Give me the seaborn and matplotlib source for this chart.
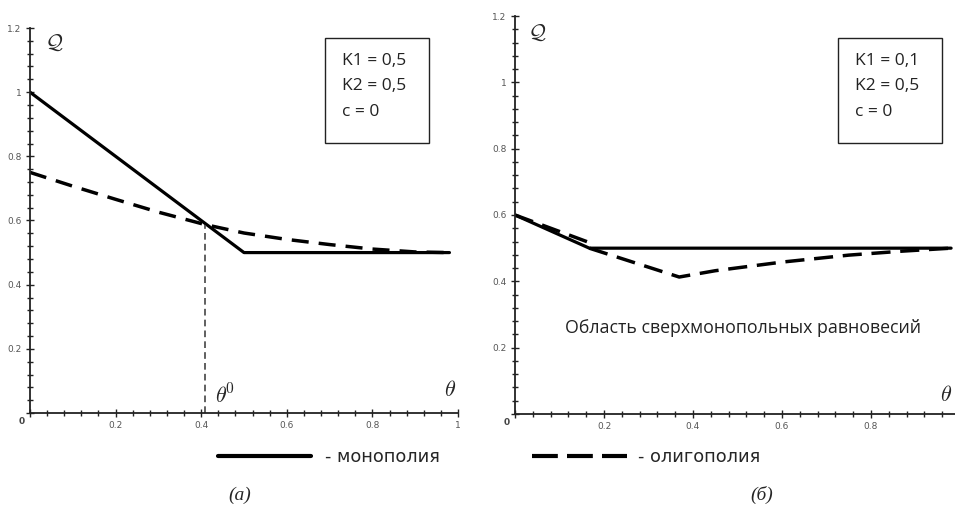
import matplotlib
matplotlib.use("Agg")
import matplotlib.pyplot as plt
import seaborn as sns
import numpy as np
import pandas as pd
from matplotlib.lines import Line2D
from matplotlib.patches import Rectangle
from matplotlib.ticker import FixedLocator, FixedFormatter, MultipleLocator

# ---------------- data ----------------
# panel (a): K1 = 0.5, K2 = 0.5, c = 0
theta_mono_a = [0.0, 0.5, 0.98]
q_mono_a = [1.0, 0.5, 0.5]
theta_olig_a = [0.0, 0.1, 0.2, 0.3, 0.41, 0.5, 0.6, 0.7, 0.8, 0.9, 0.98]
q_olig_a = [0.75, 0.707, 0.666, 0.626, 0.587, 0.561, 0.541, 0.525, 0.511, 0.502, 0.5]
theta0 = 0.41
q_theta0 = 0.587

# panel (б): K1 = 0.1, K2 = 0.5, c = 0
theta_mono_b = [0.0, 0.167, 0.98]
q_mono_b = [0.6, 0.5, 0.5]
theta_olig_b1 = [0.0, 0.165]
q_olig_b1 = [0.6, 0.518]
theta_olig_b2 = [0.167, 0.369, 0.45, 0.6, 0.75, 0.87, 0.98]
q_olig_b2 = [0.5, 0.413, 0.432, 0.458, 0.479, 0.491, 0.5]

x_major = [0.0, 0.2, 0.4, 0.6, 0.8, 1.0]
x_labels_a = ["", "0.2", "0.4", "0.6", "0.8", "1"]
x_labels_b = ["", "0.2", "0.4", "0.6", "0.8", ""]
y_major = [0.0, 0.2, 0.4, 0.6, 0.8, 1.0, 1.2]
y_labels = ["", "0.2", "0.4", "0.6", "0.8", "1", "1.2"]

params_a = "K1 = 0,5\nK2 = 0,5\nc = 0"
params_b = "K1 = 0,1\nK2 = 0,5\nc = 0"
region_text = "Область сверхмонопольных равновесий"
legend_mono = "- монополия"
legend_olig = "- олигополия"

# ---------------- figure ----------------
sns.set_theme(style="white")
plt.rcParams["font.family"] = ["DejaVu Sans"]
plt.rcParams["mathtext.fontset"] = "cm"

W, H = 955, 507
fig = plt.figure(figsize=(W / 100, H / 100), dpi=100)
fig.patch.set_facecolor("white")


def fx(px):
    return px / W


def fy(py):
    return 1 - py / H


axA = fig.add_axes([fx(30), fy(413), 428 / W, 385 / H])
axB = fig.add_axes([fx(515), fy(414), 445 / W, 398 / H])

SOLID_LW = 2.3
DASH_LW = 2.5

# panel a
sns.lineplot(x=theta_mono_a, y=q_mono_a, ax=axA, color="black", lw=SOLID_LW,
             estimator=None, sort=False)
sns.lineplot(x=theta_olig_a, y=q_olig_a, ax=axA, color="black", lw=DASH_LW,
             estimator=None, sort=False, linestyle=(0, (4.9, 2.9)))
sns.lineplot(x=[theta0, theta0], y=[0, q_theta0], ax=axA, color="#444444", lw=1.2,
             estimator=None, sort=False, linestyle=(0, (4, 2.5)))

# panel b
sns.lineplot(x=theta_mono_b, y=q_mono_b, ax=axB, color="black", lw=SOLID_LW,
             estimator=None, sort=False)
sns.lineplot(x=theta_olig_b1, y=q_olig_b1, ax=axB, color="black", lw=DASH_LW,
             estimator=None, sort=False, linestyle=(0, (5.5, 2.8)))
sns.lineplot(x=theta_olig_b2, y=q_olig_b2, ax=axB, color="black", lw=DASH_LW,
             estimator=None, sort=False, linestyle=(0, (5.5, 2.8)))

for ax, xl in ((axA, x_labels_a), (axB, x_labels_b)):
    ax.set_xlim(0, 1)
    ax.set_ylim(0, 1.2)
    ax.set_facecolor("white")
    for s in ("top", "right"):
        ax.spines[s].set_visible(False)
    for s in ("left", "bottom"):
        ax.spines[s].set_color("#222222")
        ax.spines[s].set_linewidth(1.3)
    ax.xaxis.set_major_locator(FixedLocator(x_major))
    ax.xaxis.set_major_formatter(FixedFormatter(xl))
    ax.yaxis.set_major_locator(FixedLocator(y_major))
    ax.yaxis.set_major_formatter(FixedFormatter(y_labels))
    ax.xaxis.set_minor_locator(MultipleLocator(0.04))
    ax.yaxis.set_minor_locator(MultipleLocator(0.04))
    ax.tick_params(which="major", direction="inout", length=6, width=1.0,
                   colors="#222222", labelsize=6.5, labelcolor="#555555", pad=3,
                   bottom=True, left=True)
    ax.tick_params(which="minor", direction="inout", length=4, width=1.0,
                   colors="#222222", bottom=True, left=True)
    ax.set_xlabel("")
    ax.set_ylabel("")
    ax.text(-0.012, -0.012, "0", transform=ax.transData, ha="right", va="top",
            fontsize=6.5, color="#444444", fontweight="bold")
    ax.grid(False)

# axis labels
axA.text(0.056, 1.153, r"$\mathcal{Q}$", fontsize=15, ha="center", va="center")
axB.text(0.049, 1.149, r"$\mathcal{Q}$", fontsize=15, ha="center", va="center")
axA.text(0.456, 0.053, r"$\theta^{\!0}$", fontsize=16, ha="center", va="center")
axA.text(0.981, 0.072, r"$\theta$", fontsize=16, ha="center", va="center")
axB.text(0.955, 0.057, r"$\theta$", fontsize=16, ha="left", va="center", clip_on=False)

axB.text(0.512, 0.259, region_text, fontsize=12.8, ha="center", va="center",
         family=["Open Sans", "DejaVu Sans"], color="#222222")

# parameter boxes
for (x0, txt) in ((325, params_a), (838, params_b)):
    fig.add_artist(Rectangle((fx(x0), fy(143)), 104 / W, 105 / H,
                             transform=fig.transFigure, fill=False,
                             edgecolor="#222222", lw=1.0))
    fig.text(fx(x0 + 17), fy(53), txt, ha="left", va="top", fontsize=12.5,
             linespacing=1.78, family=["Open Sans", "DejaVu Sans"], color="#222222")

# legends
fs_leg = 12.8
leg1 = fig.legend(handles=[Line2D([], [], color="black", lw=3.0)], labels=[legend_mono],
                  loc="center left", bbox_to_anchor=(fx(218), fy(457)),
                  frameon=False, borderpad=0, borderaxespad=0,
                  handlelength=93 / (fs_leg * 100 / 72), handletextpad=0.8,
                  fontsize=fs_leg)
leg2 = fig.legend(handles=[Line2D([], [], color="black", lw=3.0, linestyle=(0, (6.2, 2.2)))],
                  labels=[legend_olig],
                  loc="center left", bbox_to_anchor=(fx(532), fy(457)),
                  frameon=False, borderpad=0, borderaxespad=0,
                  handlelength=95 / (fs_leg * 100 / 72), handletextpad=0.6,
                  fontsize=fs_leg)

# captions
fig.text(fx(240), fy(495), "(a)", ha="center", va="center", fontsize=14,
         family=["Liberation Serif"], style="italic")
fig.text(fx(762), fy(495), "(б)", ha="center", va="center", fontsize=14,
         family=["Liberation Serif"], style="italic")

fig.savefig("out.png", dpi=100, facecolor="white")
